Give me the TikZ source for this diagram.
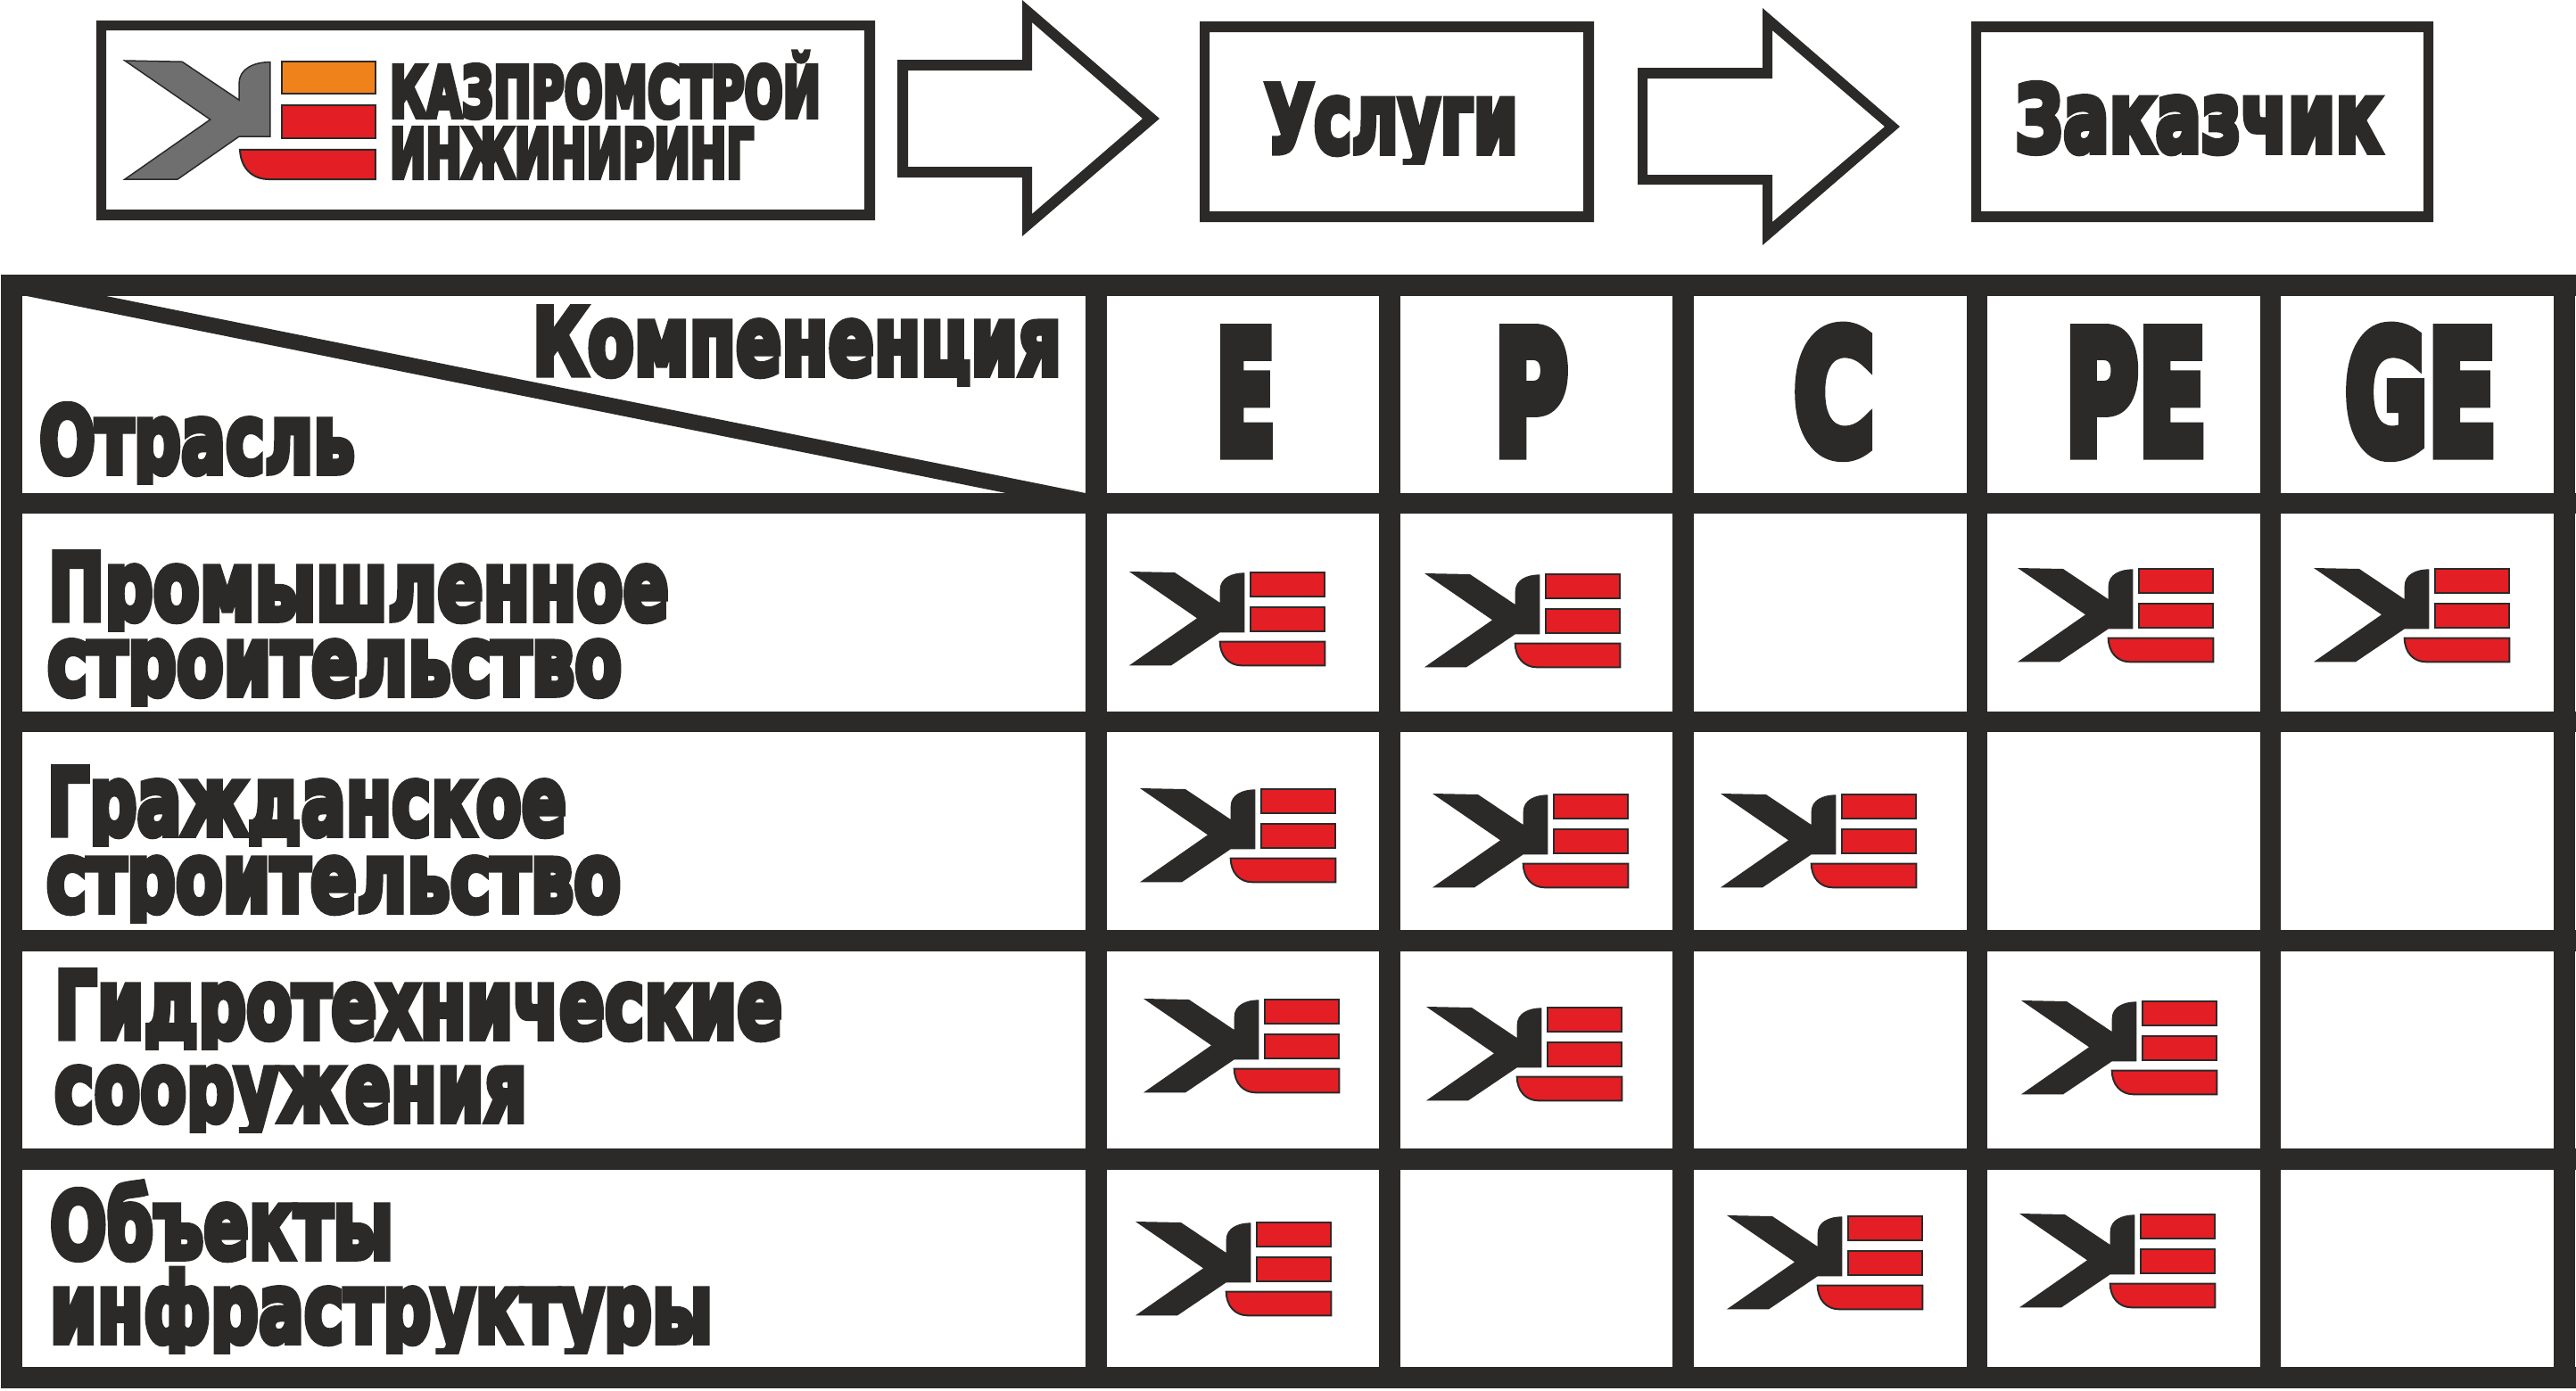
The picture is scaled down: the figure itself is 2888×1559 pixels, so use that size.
\documentclass[tikz,border=0pt]{standalone}
\usepackage{fontspec}
\usepackage{graphicx}
\newfontfamily\kfont[FakeBold=7]{DejaVu Sans Bold}
\newfontfamily\kcapsfont[FakeBold=8]{DejaVu Sans Bold}
\definecolor{ink}{HTML}{2B2A29}
\definecolor{kred}{HTML}{E31E24}
\definecolor{korange}{HTML}{F0821C}
\definecolor{kgray}{HTML}{706F6F}
\newsavebox\kbox
\newcommand\kcap{77.5}
\newcommand\kxh{60.5}
\newcommand\kcapsh{78}
% width, cap height, x-height, capital, rest (lower case)
\newcommand\fitted[5]{%
  \sbox\kbox{\fontsize{100pt}{100pt}\kfont #4#5}%
  \pgfmathsetmacro\ksx{#1/\the\wd\kbox}%
  \pgfmathsetmacro\ksy{#2/\kcap}%
  \pgfmathsetmacro\ksz{#3/\kxh}%
  {\fontsize{100pt}{100pt}\kfont\scalebox{\ksx}[\ksy]{#4}\scalebox{\ksx}[\ksz]{#5}}}
% width, cap height, upper case text
\newcommand\fitcaps[3]{%
  \sbox\kbox{\fontsize{100pt}{100pt}\kcapsfont #3}%
  \pgfmathsetmacro\ksx{#1/\the\wd\kbox}%
  \pgfmathsetmacro\ksy{#2/\kcapsh}%
  {\fontsize{100pt}{100pt}\kcapsfont\scalebox{\ksx}[\ksy]{#3}}}
% width, x-height, lower case text
\newcommand\fitlow[3]{%
  \sbox\kbox{\fontsize{100pt}{100pt}\kfont #3}%
  \pgfmathsetmacro\ksx{#1/\the\wd\kbox}%
  \pgfmathsetmacro\ksy{#2/\kxh}%
  {\fontsize{100pt}{100pt}\kfont\scalebox{\ksx}[\ksy]{#3}}}
% name, x, baseline, content: the short flat descenders of the lettering
\newcommand\shortlab[4]{%
  \begin{scope}
    \clip (#2-40,#3-150) rectangle (#2+1000,#3+11);
    \node[txt] (#1) at (#2,#3-2) {#4};
  \end{scope}}
\newcommand\kelogo[2]{%
  \begin{scope}[shift={(#1,#2)}]
    \fill[fill=ink] (0,0) -- (51,1) -- (101.7,35) -- (101.7,20) .. controls (101.7,7) and (115,1.3) .. (129.3,1.3) -- (129.3,68.3) -- (101.7,68.3) -- (47,105.3) -- (0,105.3) -- (76,52.3) -- cycle;
    \draw[logobar] (136.3,1) rectangle (219,28);
    \draw[logobar] (136.3,40) rectangle (219.3,67);
    \draw[logobar] (101.7,78.7) -- (219.3,78.7) -- (219.3,105.3) -- (126,105.3) .. controls (112,105.3) and (102,95) .. (101.7,78.7) -- cycle;
  \end{scope}}
\tikzset{
  logobar/.style={draw=ink,line width=2pt,fill=kred},
  txt/.style={inner sep=0pt,outer sep=0pt,anchor=base west,text=ink},
  solid ink/.style={fill=ink,draw=none}
}
\begin{document}
\begin{tikzpicture}[x=1pt,y=-1pt]
\useasboundingbox (0,0) rectangle (2888,1559);
\fill[white] (0,0) rectangle (2888,1559);

% header boxes
\fill[solid ink,even odd rule] (108,23) rectangle (981,247) (119,34) rectangle (969,235);
\fill[solid ink,even odd rule] (1345,24) rectangle (1787,249) (1356,36) rectangle (1775,237);
\fill[solid ink,even odd rule] (2210,24) rectangle (2728,249) (2221,36) rectangle (2717,237);

% arrows
\fill[solid ink,even odd rule] (1006,67) -- (1146,67) -- (1146,0) -- (1300,133) -- (1146,265) -- (1146,199) -- (1006,199) -- cycle
  (1018,79) -- (1157,79) -- (1157,25) -- (1281,133) -- (1157,240) -- (1157,187) -- (1018,187) -- cycle;
\fill[solid ink,even odd rule] (1836,76) -- (1976,76) -- (1976,9) -- (2130,142) -- (1976,275) -- (1976,207) -- (1836,207) -- cycle
  (1847,88) -- (1987,88) -- (1987,34) -- (2113,142) -- (1987,249) -- (1987,196) -- (1847,196) -- cycle;

% main logo
\begin{scope}[shift={(140,68)},xscale=1.26,yscale=1.263]
  \fill[fill=kgray,draw=ink,line width=1.5pt] (0,0) -- (51,1) -- (101.7,35) -- (101.7,20) .. controls (101.7,7) and (115,1.3) .. (129.3,1.3) -- (129.3,67.3) -- (101.7,67.3) -- (47,105.3) -- (0,105.3) -- (76,52.3) -- cycle;
  \draw[logobar,fill=korange] (140,1) rectangle (223,29);
  \draw[logobar] (140,39.6) rectangle (223,68.5);
  \draw[logobar] (102.4,79) -- (223,79) -- (223,105.3) -- (128,105.3) .. controls (113,105.3) and (103,95) .. (102.4,79) -- cycle;
\end{scope}

\node[txt] (brand1) at (437,131) {\fitcaps{483}{61}{КАЗПРОМСТРОЙ}};
\node[txt] (brand2) at (437,199) {\fitcaps{408}{59}{ИНЖИНИРИНГ}};
\shortlab{services}{1418}{173}{\fitted{284}{81}{66}{У}{слуги}}
\node[txt] (customer) at (2259,170) {\fitted{411}{80}{66}{З}{аказчик}};

% table grid
\fill[solid ink] (1,308) rectangle (2888,332);
\fill[solid ink] (1,553) rectangle (2888,576);
\fill[solid ink] (1,798) rectangle (2888,821);
\fill[solid ink] (1,1043) rectangle (2888,1067);
\fill[solid ink] (1,1288) rectangle (2888,1312);
\fill[solid ink] (1,1533) rectangle (2888,1557);
\fill[solid ink] (1,308) rectangle (25,1557);
\fill[solid ink] (1217,308) rectangle (1241,1557);
\fill[solid ink] (1546,308) rectangle (1570,1557);
\fill[solid ink] (1875,308) rectangle (1899,1557);
\fill[solid ink] (2205,308) rectangle (2228,1557);
\fill[solid ink] (2534,308) rectangle (2557,1557);
\fill[solid ink] (2863,308) rectangle (2887,1557);
\fill[solid ink] (25,331) -- (114,331) -- (1217,553) -- (1128,553) -- cycle;

% header texts
\shortlab{comp}{597}{422}{\fitted{593}{80}{65}{К}{омпененция}}
\shortlab{otr}{44}{532}{\fitted{354}{80}{65}{О}{трасль}}
\node[txt] (hE) at (1363,508) {\fitcaps{67}{147}{E}};
\node[txt] (hP) at (1675,508) {\fitcaps{83}{147}{P}};
\node[txt] (hC) at (2011,508) {\fitcaps{91}{147}{C}};
\node[txt] (hPE) at (2315,508) {\fitcaps{159}{147}{PE}};
\node[txt] (hGE) at (2629,508) {\fitcaps{170}{147}{GE}};

% row labels
\shortlab{r1a}{54}{697}{\fitted{696}{80}{65}{П}{ромышленное}}
\shortlab{r1b}{53}{781}{\fitlow{644}{65}{строительство}}
\shortlab{r2a}{53}{938}{\fitted{582}{80}{65}{Г}{ражданское}}
\shortlab{r2b}{52}{1024}{\fitlow{644}{65}{строительство}}
\shortlab{r3a}{61}{1166}{\fitted{816}{80}{65}{Г}{идротехнические}}
\shortlab{r3b}{61}{1259}{\fitlow{530}{65}{сооружения}}
\shortlab{r4a}{56}{1413}{\fitted{385}{80}{65}{О}{бъекты}}
\shortlab{r4b}{56}{1507}{\fitlow{743}{65}{инфраструктуры}}

% cell logos
\kelogo{1266}{641}
\kelogo{1597}{643}
\kelogo{2262}{637}
\kelogo{2594}{637}
\kelogo{1278}{884}
\kelogo{1606}{890}
\kelogo{1929}{890}
\kelogo{1282}{1120}
\kelogo{1599}{1129}
\kelogo{2266}{1122}
\kelogo{1273}{1370}
\kelogo{1936}{1363}
\kelogo{2264}{1361}
\end{tikzpicture}
\end{document}
